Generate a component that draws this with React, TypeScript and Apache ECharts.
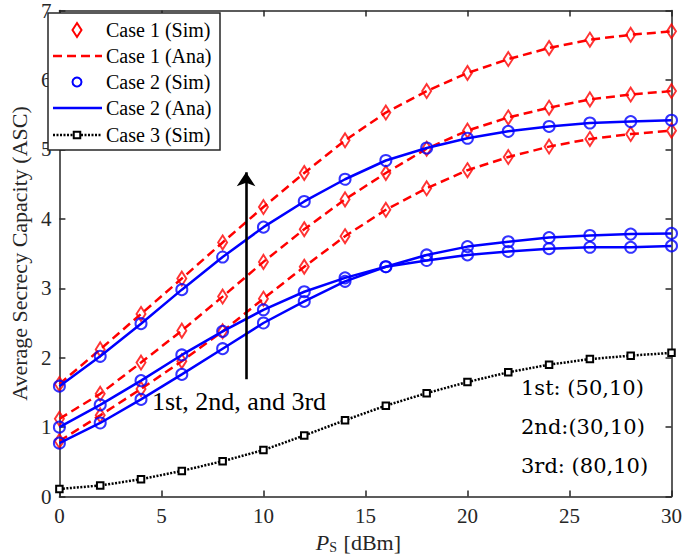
import React, { useEffect, useRef } from 'react';
import * as echarts from 'echarts';

const xValues = [0, 2, 4, 6, 8, 10, 12, 14, 16, 18, 20, 22, 24, 26, 28, 30];

// Case 1 (red diamonds / dashed analytic lines): 1st, 2nd, 3rd settings
const case1First = [1.62, 2.12, 2.63, 3.14, 3.66, 4.17, 4.66, 5.13, 5.53, 5.84, 6.10, 6.30, 6.46, 6.58, 6.65, 6.70];
const case1Second = [1.12, 1.48, 1.93, 2.39, 2.88, 3.38, 3.85, 4.28, 4.66, 5.01, 5.27, 5.46, 5.60, 5.72, 5.79, 5.84];
const case1Third = [0.80, 1.17, 1.55, 1.95, 2.38, 2.85, 3.31, 3.75, 4.13, 4.44, 4.70, 4.89, 5.04, 5.15, 5.22, 5.27];

// Case 2 (blue circles / solid analytic lines)
const case2First = [1.59, 2.02, 2.49, 2.98, 3.45, 3.88, 4.25, 4.57, 4.84, 5.02, 5.16, 5.26, 5.33, 5.38, 5.40, 5.42];
const case2Second = [1.00, 1.32, 1.67, 2.04, 2.38, 2.69, 2.95, 3.15, 3.31, 3.40, 3.48, 3.53, 3.57, 3.59, 3.59, 3.61];
const case2Third = [0.77, 1.06, 1.40, 1.76, 2.13, 2.50, 2.81, 3.10, 3.31, 3.48, 3.60, 3.67, 3.73, 3.76, 3.78, 3.79];

// Case 3 (black squares, dotted)
const case3 = [0.11, 0.16, 0.25, 0.37, 0.51, 0.67, 0.88, 1.10, 1.31, 1.49, 1.65, 1.79, 1.90, 1.98, 2.03, 2.07];

const xTicks = { min: 0, max: 30, interval: 5 };
const yTicks = { min: 0, max: 7, interval: 1 };

const arrowX = 9.15;
const arrowFrom = 1.69;
const arrowTo = 4.67;

const legendLabels = ['Case 1 (Sim)', 'Case 1 (Ana)', 'Case 2 (Sim)', 'Case 2 (Ana)', 'Case 3 (Sim)'];
const noteMain = '1st, 2nd, and 3rd';
const noteLines = ['1st: (50,10)', '2nd:(30,10)', '3rd: (80,10)'];

const RED = '#ff0000';
const BLUE = '#0000ff';
const BLACK = '#000000';
const AXIS = '#262626';
const SERIF = 'Liberation Serif, serif';
const NOTE_FONT = 'DejaVu Serif, serif';
const TRANSPARENT = 'rgba(0,0,0,0)';

const pairs = (ys: number[]) => xValues.map((x, i) => [x, ys[i]]);

export default function App() {
  const ref = useRef<HTMLDivElement>(null);

  useEffect(() => {
    if (!ref.current) return;
    const chart = echarts.init(ref.current, null, { renderer: 'svg' });

    const anaRed = (ys: number[]) => ({
      type: 'line',
      data: pairs(ys),
      symbol: 'none',
      lineStyle: { color: RED, width: 2.5, type: [9, 5] },
      itemStyle: { color: RED },
      silent: true,
      z: 2,
    });
    const simRed = (ys: number[]) => ({
      type: 'scatter',
      data: pairs(ys),
      symbol: 'diamond',
      symbolSize: [9, 14],
      itemStyle: { color: TRANSPARENT, borderColor: RED, borderWidth: 2 },
      silent: true,
      z: 3,
    });
    const anaBlue = (ys: number[]) => ({
      type: 'line',
      data: pairs(ys),
      symbol: 'none',
      lineStyle: { color: BLUE, width: 2.5, type: 'solid' },
      itemStyle: { color: BLUE },
      silent: true,
      z: 4,
    });
    const simBlue = (ys: number[]) => ({
      type: 'scatter',
      data: pairs(ys),
      symbol: 'circle',
      symbolSize: 11,
      itemStyle: { color: TRANSPARENT, borderColor: BLUE, borderWidth: 2 },
      silent: true,
      z: 5,
    });

    const rowY = [30, 56, 82, 108, 135];
    const legendGraphics: any[] = [
      {
        type: 'rect',
        shape: { x: 48, y: 13, width: 172, height: 137 },
        style: { fill: '#ffffff', stroke: AXIS, lineWidth: 1.5 },
        z: 100,
      },
      {
        type: 'polygon',
        shape: { points: [[77, rowY[0] - 7], [81.5, rowY[0]], [77, rowY[0] + 7], [72.5, rowY[0]]] },
        style: { fill: TRANSPARENT, stroke: RED, lineWidth: 2 },
        z: 101,
      },
      {
        type: 'line',
        shape: { x1: 53, y1: rowY[1], x2: 102, y2: rowY[1] },
        style: { stroke: RED, lineWidth: 2.5, lineDash: [9, 5] },
        z: 101,
      },
      {
        type: 'circle',
        shape: { cx: 77, cy: rowY[2], r: 4.5 },
        style: { fill: TRANSPARENT, stroke: BLUE, lineWidth: 2 },
        z: 101,
      },
      {
        type: 'line',
        shape: { x1: 53, y1: rowY[3], x2: 102, y2: rowY[3] },
        style: { stroke: BLUE, lineWidth: 2.5 },
        z: 101,
      },
      {
        type: 'line',
        shape: { x1: 53, y1: rowY[4], x2: 102, y2: rowY[4] },
        style: { stroke: BLACK, lineWidth: 2.5, lineDash: [2, 1.5] },
        z: 101,
      },
      {
        type: 'rect',
        shape: { x: 73.75, y: rowY[4] - 3.25, width: 6.5, height: 6.5 },
        style: { fill: '#ffffff', stroke: BLACK, lineWidth: 2 },
        z: 102,
      },
      ...legendLabels.map((t, i) => ({
        type: 'text',
        x: 106,
        y: rowY[i],
        style: { text: t, fontSize: 20, fontFamily: SERIF, fill: BLACK, align: 'left', verticalAlign: 'middle' },
        z: 102,
      })),
    ];

    const noteGraphics: any[] = [
      {
        type: 'text',
        x: 152,
        y: 401,
        style: { text: noteMain, fontSize: 26, fontFamily: SERIF, fill: BLACK, align: 'left', verticalAlign: 'middle' },
        z: 50,
      },
      ...noteLines.map((t, i) => ({
        type: 'text',
        x: 521,
        y: 388 + i * 39,
        style: { text: t, fontSize: 21, fontFamily: NOTE_FONT, fill: BLACK, align: 'left', verticalAlign: 'middle' },
        z: 50,
      })),
    ];

    const axisCommon = {
      axisLine: { show: true, onZero: false, lineStyle: { color: AXIS, width: 1.5 } },
      axisTick: { show: true, inside: true, length: 6, lineStyle: { color: AXIS, width: 1.5 } },
      splitLine: { show: false },
    };

    const option: any = {
      animation: false,
      backgroundColor: '#ffffff',
      grid: { left: 42, right: 10, top: 7, bottom: 59, containLabel: false },
      xAxis: [
        {
          type: 'value',
          ...xTicks,
          ...axisCommon,
          position: 'bottom',
          axisLabel: { fontSize: 21, fontFamily: SERIF, color: AXIS, margin: 9 },
          name: '{i|P}{s|S} [dBm]',
          nameLocation: 'middle',
          nameGap: 34,
          nameTextStyle: {
            fontSize: 22,
            fontFamily: SERIF,
            color: AXIS,
            padding: [0, 14, 0, 0],
            rich: {
              i: { fontSize: 22, fontFamily: SERIF, fontStyle: 'italic', color: AXIS },
              s: { fontSize: 14, fontFamily: SERIF, color: AXIS, verticalAlign: 'bottom', padding: [9, 1, 0, 0] },
            },
          },
        },
        {
          type: 'value',
          ...xTicks,
          ...axisCommon,
          position: 'top',
          axisLabel: { show: false },
        },
      ],
      yAxis: [
        {
          type: 'value',
          ...yTicks,
          ...axisCommon,
          position: 'left',
          axisLabel: { fontSize: 21, fontFamily: SERIF, color: AXIS, margin: 8 },
          name: 'Average Secrecy Capacity (ASC)',
          nameLocation: 'middle',
          nameGap: 24,
          nameTextStyle: { fontSize: 22, fontFamily: SERIF, color: AXIS },
        },
        {
          type: 'value',
          ...yTicks,
          ...axisCommon,
          position: 'right',
          axisLabel: { show: false },
        },
      ],
      series: [
        anaRed(case1First),
        anaRed(case1Second),
        anaRed(case1Third),
        simRed(case1First),
        simRed(case1Second),
        simRed(case1Third),
        anaBlue(case2First),
        anaBlue(case2Second),
        anaBlue(case2Third),
        simBlue(case2First),
        simBlue(case2Second),
        simBlue(case2Third),
        {
          type: 'line',
          data: pairs(case3),
          symbol: 'rect',
          symbolSize: 6.5,
          showSymbol: true,
          showAllSymbol: true,
          lineStyle: { color: BLACK, width: 2.5, type: [2, 1.5] },
          itemStyle: { color: '#ffffff', borderColor: BLACK, borderWidth: 2 },
          silent: true,
          z: 6,
        },
        {
          type: 'line',
          data: [],
          silent: true,
          z: 7,
          markLine: {
            silent: true,
            animation: false,
            symbol: ['none', 'arrow'],
            symbolSize: 14,
            label: { show: false },
            lineStyle: { color: BLACK, width: 2.6, type: 'solid' },
            itemStyle: { color: BLACK },
            emphasis: { disabled: true },
            data: [[{ coord: [arrowX, arrowFrom] }, { coord: [arrowX, arrowTo] }]],
          },
        },
      ],
      graphic: [...noteGraphics, ...legendGraphics],
    };

    chart.setOption(option);
    return () => chart.dispose();
  }, []);

  return (
    <div
      ref={ref}
      style={{ position: 'absolute', left: 0, top: 0, width: 685, height: 559 }}
    />
  );
}
